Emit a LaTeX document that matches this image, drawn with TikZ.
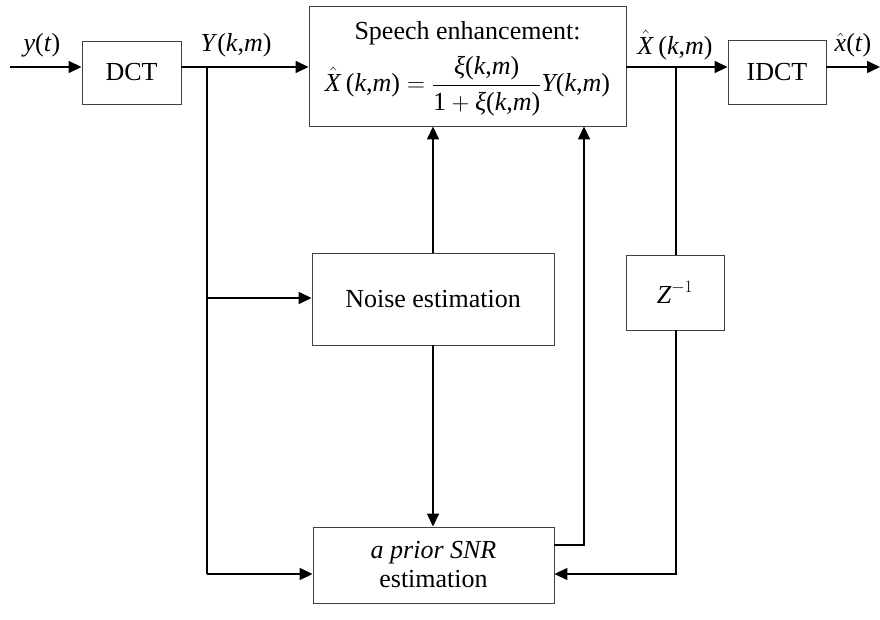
\documentclass[tikz,border=0pt]{standalone}
\usepackage{fontspec}
\setmainfont{Liberation Serif}
\usetikzlibrary{arrows.meta}
\newcommand{\vi}[1]{\textit{#1}}
\newcommand{\km}{\mbox{(\vi{k},\vi{m})}}
\newcommand{\Xhat}{\hat{\mbox{\vi{X}}}}
\begin{document}
\begin{tikzpicture}[x=1pt,y=-1pt,
  font=\fontsize{26}{31}\selectfont,
  blockbox/.style={draw=black!75,line width=0.9pt,inner sep=0pt,align=center},
  link/.style={line width=1.5pt,black},
  flow/.style={link,-{Triangle[length=13pt,width=12pt]}},
  lbl/.style={inner sep=0pt}]
\useasboundingbox (0,0) rectangle (880,620);

% blocks
\node[blockbox,minimum width=99pt,minimum height=63pt] (dct) at (131.5,72.5) {DCT};
\node[blockbox,minimum width=317pt,minimum height=120pt] (enh) at (467.5,66) {};
\node[lbl] (enhtitle) at (467.5,33) {Speech enhancement:};
\node[lbl] (enhformula) at (467.5,86)
  {$\displaystyle\Xhat\mbox{\,}\km=\frac{\mbox{\textit{ξ}}\km\rule[-4pt]{0pt}{4pt}}{\mbox{1}+\mbox{\textit{ξ}}\km\rule{0pt}{24pt}}\vi{Y}\km$};
\node[blockbox,minimum width=98pt,minimum height=64pt] (idct) at (777,72) {IDCT};
\node[blockbox,minimum width=242pt,minimum height=92pt] (noise) at (433,299) {Noise estimation};
\node[blockbox,minimum width=98pt,minimum height=75pt] (delay) at (675,292.5) {$\vi{Z}^{-1}$};
\node[blockbox,minimum width=241pt,minimum height=76pt] (snr) at (433.5,565)
  {\vi{a prior SNR}\\[-2pt]estimation};

% signal labels
\node[lbl] (ly) at (42,45) {\vi{y}(\vi{t})};
\node[lbl] (lY) at (236,45) {\vi{Y}(\vi{k},\vi{m})};
\node[lbl] (lX) at (675,45) {$\Xhat\mbox{\,}\km$};
\node[lbl] (lx) at (853,45) {$\hat{\mbox{\vi{x}}}$(\vi{t})};

% junctions and free ends
\coordinate (in) at (10,67);
\coordinate (out) at (880,67);
\coordinate (jY) at (207,67);
\coordinate (jYn) at (207,298);
\coordinate (jYs) at (207,574);
\coordinate (jX) at (676,67);
\coordinate (jXs) at (676,574);
\coordinate (fb) at (584,545);

% main path
\draw[flow] (in) -- (in -| dct.west);
\draw[flow] (dct.east |- jY) -- (jY -| enh.west);
\draw[flow] (enh.east |- jX) -- (jX -| idct.west);
\draw[flow] (idct.east |- out) -- (out);

% noisy spectrum branches
\draw[link] (jY) -- (jYs);
\draw[flow] (jYn) -- (jYn -| noise.west);
\draw[flow] (jYs) -- (jYs -| snr.west);

% noise estimate to enhancement and SNR estimation
\draw[flow] (noise.north) -- (noise.north |- enh.south);
\draw[flow] (noise.south) -- (noise.south |- snr.north);

% SNR estimate back to enhancement
\draw[flow] (snr.east |- fb) -- (fb) -- (fb |- enh.south);

% delayed enhanced spectrum to SNR estimation
\draw[link] (jX) -- (jX |- delay.north);
\draw[flow] (jX |- delay.south) -- (jXs) -- (jXs -| snr.east);
\end{tikzpicture}
\end{document}
